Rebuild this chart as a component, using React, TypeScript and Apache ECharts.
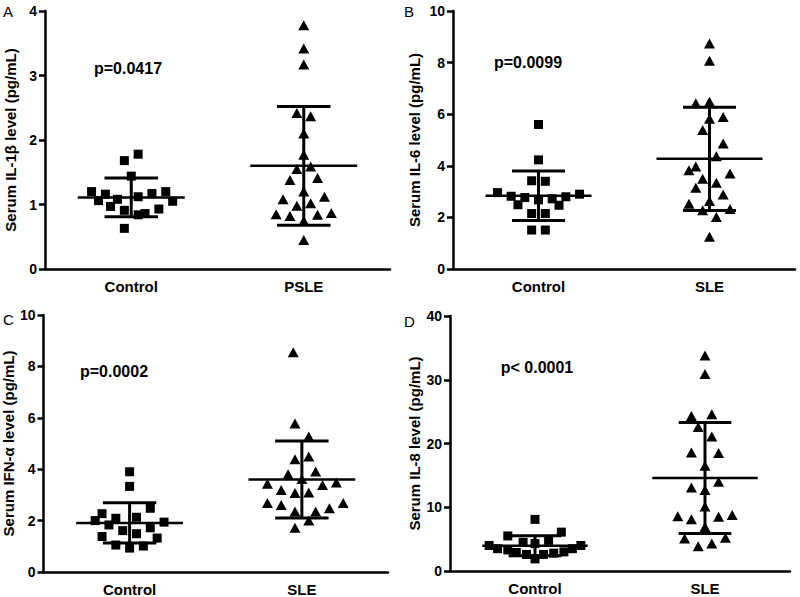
import React, { useEffect, useRef } from "react";
import * as echarts from "echarts";

const FONT = "'Liberation Sans', Arial, Helvetica, sans-serif";

// ---- Panel A : IL-1β ----
const catsA = ["Control", "PSLE"];
const ctrlA = [1.78, 1.68, 1.44, 1.2, 1.06, 1.16, 0.97, 1.08, 0.91, 1.12, 0.84, 0.86, 1.17, 0.93, 1.2, 1.05, 0.63];
const ctrlJitA = [0.04, -0.04, 0, -0.23, -0.19, -0.15, -0.12, -0.08, -0.04, 0.04, 0.04, 0.08, 0.12, 0.16, 0.2, 0.24, -0.04];
const sleA = [3.78, 3.42, 3.17, 2.42, 2.37, 2.1, 1.77, 1.55, 1.59, 1.38, 1.41, 1.2, 1.08, 1.12, 0.98, 1.02, 0.85, 0.82, 0.84, 0.87, 0.75, 0.45];
const sleJitA = [0, 0, 0, -0.04, 0.04, 0, 0, -0.04, 0.04, -0.08, 0.08, 0, -0.12, 0.12, -0.04, 0.04, -0.16, -0.08, 0.08, 0.16, 0, 0];
const statsA = [[1.11, 0.3], [1.6, 0.92]]; // mean, SD
const yTicksA = { max: 4, interval: 1 };

// ---- Panel B : IL-6 ----
const catsB = ["Control", "SLE"];
const ctrlB = [5.6, 4.23, 3.42, 3.4, 2.96, 2.82, 2.49, 2.77, 2.68, 2.72, 2.47, 2.8, 2.9, 2.15, 2.15, 1.51, 1.51];
const ctrlJitB = [0, 0, -0.04, 0.04, -0.24, -0.16, -0.12, -0.08, 0, 0.08, 0.12, 0.16, 0.24, -0.04, 0.04, -0.04, 0.04];
const sleB = [8.74, 8.07, 6.42, 6.48, 5.82, 5.89, 5.39, 4.86, 4.37, 3.83, 3.97, 3.7, 3.5, 3.34, 3.15, 2.89, 2.53, 2.64, 2.28, 2.33, 2.02, 1.25];
const sleJitB = [0, 0, -0.08, 0, 0, 0.08, -0.04, 0.08, 0.04, -0.12, -0.08, 0.12, -0.04, 0.04, -0.08, 0.08, -0.12, 0, -0.04, 0.12, 0.04, 0];
const statsB = [[2.84, 0.96], [4.27, 2.0]];
const yTicksB = { max: 10, interval: 2 };

// ---- Panel C : IFN-α ----
const catsC = ["Control", "SLE"];
const ctrlC = [3.9, 3.33, 2.48, 2.27, 2.0, 2.09, 2.13, 1.94, 1.83, 1.72, 1.61, 1.49, 1.38, 1.32, 1.05, 0.93, 1.01];
const ctrlJitC = [0, 0, 0.12, -0.16, -0.2, -0.08, 0.04, 0.2, -0.12, 0.12, -0.04, 0.04, -0.16, 0.16, -0.08, 0, 0.08];
const sleC = [8.55, 5.78, 5.27, 4.39, 4.49, 3.8, 3.91, 3.62, 3.43, 3.39, 3.48, 3.19, 3.07, 3.09, 2.68, 2.61, 2.68, 2.35, 2.35, 2.48, 2.0, 1.72];
const sleJitC = [-0.05, -0.04, 0.04, -0.04, 0.04, -0.08, 0.08, 0, -0.2, 0.12, 0.2, -0.12, -0.04, 0.04, -0.2, -0.12, 0.24, -0.04, 0.08, 0.16, 0.04, -0.04];
const statsC = [[1.91, 0.78], [3.6, 1.5]];
const yTicksC = { max: 10, interval: 2 };

// ---- Panel D : IL-8 ----
const catsD = ["Control", "SLE"];
const ctrlD = [8.1, 5.5, 6.1, 4.8, 4.3, 4.5, 4.0, 3.5, 3.3, 2.9, 2.6, 1.9, 2.6, 2.8, 3.0, 3.5, 4.0];
const ctrlJitD = [0, -0.16, 0.155, 0.08, 0, -0.07, -0.27, -0.22, -0.16, -0.11, -0.05, 0, 0.05, 0.11, 0.17, 0.22, 0.27];
const sleD = [33.8, 30.9, 24.3, 24.6, 22.6, 21.1, 18.6, 18.5, 16.5, 14.0, 13.1, 12.7, 10.1, 8.6, 8.1, 8.5, 8.8, 6.9, 5.1, 5.2, 3.9, 4.3];
const sleJitD = [0, 0, -0.08, 0.04, -0.04, 0.04, -0.08, 0.08, 0, 0.08, -0.08, 0, 0, -0.16, -0.08, 0.08, 0.16, 0, -0.12, 0.12, -0.04, 0.04];
const statsD = [[3.96, 1.57], [14.6, 8.7]];
const yTicksD = { max: 40, interval: 10 };

const yNames = [
  "Serum IL-1β level (pg/mL)",
  "Serum IL-6 level (pg/mL)",
  "Serum IFN-α level (pg/mL)",
  "Serum IL-8 level (pg/mL)",
];
const pTexts = ["p=0.0417", "p=0.0099", "p=0.0002", "p< 0.0001"];
const letters = ["A", "B", "C", "D"];

const panels = [
  { cats: catsA, ctrl: ctrlA, cj: ctrlJitA, sle: sleA, sj: sleJitA, stats: statsA, y: yTicksA,
    grid: { left: 45, top: 11, width: 345, height: 258 }, nameGap: 27, pPos: [128, 68], lPos: [3, 4] },
  { cats: catsB, ctrl: ctrlB, cj: ctrlJitB, sle: sleB, sj: sleJitB, stats: statsB, y: yTicksB,
    grid: { left: 453, top: 11, width: 342, height: 258 }, nameGap: 31, pPos: [528, 62], lPos: [404, 4] },
  { cats: catsC, ctrl: ctrlC, cj: ctrlJitC, sle: sleC, sj: sleJitC, stats: statsC, y: yTicksC,
    grid: { left: 43, top: 315, width: 345, height: 257 }, nameGap: 23, pPos: [114, 371], lPos: [3, 312] },
  { cats: catsD, ctrl: ctrlD, cj: ctrlJitD, sle: sleD, sj: sleJitD, stats: statsD, y: yTicksD,
    grid: { left: 450, top: 316, width: 340, height: 255 }, nameGap: 28, pPos: [537, 367], lPos: [404, 314] },
];

const MEAN_HALF = 0.31;
const SD_HALF = 0.155;
const LW = 2.5;

function renderStats(params: any, api: any) {
  const c = api.value(0);
  const m = api.value(1);
  const s = api.value(2);
  const seg = (x1: number, y1: number, x2: number, y2: number, w: number) => {
    const a = api.coord([x1, y1]);
    const b = api.coord([x2, y2]);
    return {
      type: "line",
      shape: { x1: a[0], y1: a[1], x2: b[0], y2: b[1] },
      style: { stroke: "#000", lineWidth: w },
    };
  };
  return {
    type: "group",
    children: [
      seg(c - MEAN_HALF, m, c + MEAN_HALF, m, LW),
      seg(c - SD_HALF, m + s, c + SD_HALF, m + s, LW + 0.5),
      seg(c - SD_HALF, m - s, c + SD_HALF, m - s, LW + 0.5),
      seg(c, m - s, c, m + s, LW + 0.5),
    ],
  };
}

function buildOption() {
  const grid: any[] = [];
  const xAxis: any[] = [];
  const yAxis: any[] = [];
  const series: any[] = [];
  const graphic: any[] = [];

  panels.forEach((p, i) => {
    grid.push({ ...p.grid, containLabel: false });
    xAxis.push({
      gridIndex: i,
      type: "category",
      data: p.cats,
      boundaryGap: true,
      axisLine: { lineStyle: { color: "#000", width: LW } },
      axisTick: { alignWithLabel: true, length: 6, lineStyle: { color: "#000", width: LW } },
      axisLabel: { color: "#000", fontWeight: "bold", fontSize: 15, fontFamily: FONT, margin: 10 },
      splitLine: { show: false },
    });
    xAxis.push({ gridIndex: i, type: "value", min: 0, max: 2, show: false });
    yAxis.push({
      gridIndex: i,
      type: "value",
      min: 0,
      max: p.y.max,
      interval: p.y.interval,
      name: yNames[i],
      nameLocation: "middle",
      nameGap: p.nameGap,
      nameTextStyle: { color: "#000", fontWeight: "bold", fontSize: 15, fontFamily: FONT },
      axisLine: { show: true, lineStyle: { color: "#000", width: LW } },
      axisTick: { show: true, length: 6, lineStyle: { color: "#000", width: LW } },
      axisLabel: { color: "#000", fontWeight: "bold", fontSize: 14, fontFamily: FONT, margin: 8 },
      splitLine: { show: false },
    });
    series.push({
      type: "scatter",
      xAxisIndex: 2 * i + 1,
      yAxisIndex: i,
      symbol: "rect",
      symbolSize: 9,
      itemStyle: { color: "#000", opacity: 1 },
      data: p.ctrl.map((v, k) => [0.5 + p.cj[k], v]),
      z: 3,
    });
    series.push({
      type: "scatter",
      xAxisIndex: 2 * i + 1,
      yAxisIndex: i,
      symbol: "triangle",
      symbolSize: [11, 10],
      itemStyle: { color: "#000", opacity: 1 },
      data: p.sle.map((v, k) => [1.5 + p.sj[k], v]),
      z: 3,
    });
    series.push({
      type: "custom",
      xAxisIndex: 2 * i + 1,
      yAxisIndex: i,
      renderItem: renderStats,
      data: p.stats.map((st, k) => [0.5 + k, st[0], st[1]]),
      encode: { x: 0, y: 1 },
      z: 4,
    });
    graphic.push({
      type: "text",
      x: p.lPos[0],
      y: p.lPos[1],
      style: { text: letters[i], fill: "#000", font: `15px ${FONT}`, textAlign: "left", textVerticalAlign: "top" },
    });
    graphic.push({
      type: "text",
      x: p.pPos[0],
      y: p.pPos[1],
      style: { text: pTexts[i], fill: "#000", font: `bold 16px ${FONT}`, textAlign: "center", textVerticalAlign: "middle" },
    });
  });

  return {
    animation: false,
    backgroundColor: "#fff",
    grid,
    xAxis,
    yAxis,
    series,
    graphic,
  };
}

export default function App() {
  const ref = useRef<HTMLDivElement>(null);
  useEffect(() => {
    if (!ref.current) return;
    const chart = echarts.init(ref.current, null, { renderer: "svg" });
    chart.setOption(buildOption() as any);
    return () => chart.dispose();
  }, []);
  return (
    <div
      ref={ref}
      style={{ position: "absolute", left: 0, top: 0, width: 800, height: 597, background: "#fff" }}
    />
  );
}
